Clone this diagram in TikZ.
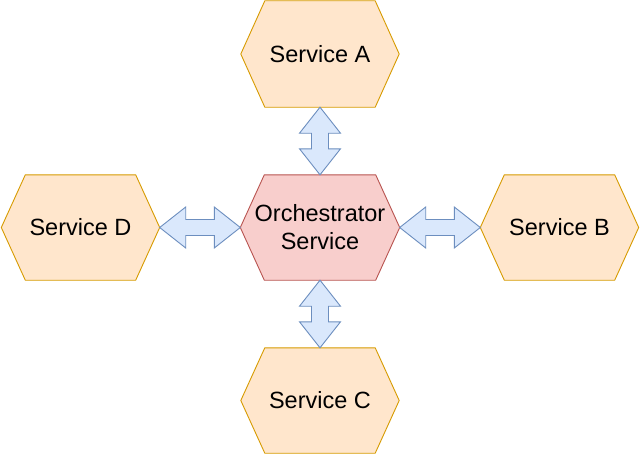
\documentclass[tikz,border=0pt]{standalone}
\usepackage{fontspec}
\setmainfont{Liberation Sans}
\usetikzlibrary{calc}
\definecolor{svcfill}{HTML}{FFE6CC}
\definecolor{svcdraw}{HTML}{D79B00}
\definecolor{orfill}{HTML}{F8CECC}
\definecolor{ordraw}{HTML}{B85450}
\definecolor{arfill}{HTML}{DAE8FC}
\definecolor{ardraw}{HTML}{6C8EBF}
\tikzset{
  box/.style={rectangle, minimum width=158pt, minimum height=106pt, inner sep=0pt,
    align=center, font=\fontsize{23.5}{28}\selectfont},
  svc/.style={fill=svcfill, draw=svcdraw, line width=0.9pt, line join=round},
  orch/.style={fill=orfill, draw=ordraw, line width=0.9pt, line join=round},
  blk/.style={fill=arfill, draw=ardraw, line width=0.9pt, line join=miter},
}
\newcommand\hexshape[2]{%
  \path[#2] (#1.west) -- ($(#1.north west)+(24pt,0)$) -- ($(#1.north east)+(-24pt,0)$)
    -- (#1.east) -- ($(#1.south east)+(-24pt,0)$) -- ($(#1.south west)+(24pt,0)$) -- cycle;}
% vertical double block arrow, first point above second
\newcommand\vdarrow[2]{%
  \path[blk] let \p1=(#1), \p2=(#2) in
    (\x1,\y1) -- (\x1+20.5pt,\y1-26pt) -- (\x1+8.5pt,\y1-26pt) -- (\x1+8.5pt,\y2+26pt)
    -- (\x1+20.5pt,\y2+26pt) -- (\x1,\y2) -- (\x1-20.5pt,\y2+26pt) -- (\x1-8.5pt,\y2+26pt)
    -- (\x1-8.5pt,\y1-26pt) -- (\x1-20.5pt,\y1-26pt) -- cycle;}
% horizontal double block arrow, first point left of second
\newcommand\hdarrow[2]{%
  \path[blk] let \p1=(#1), \p2=(#2) in
    (\x1,\y1) -- (\x1+26pt,\y1+20.5pt) -- (\x1+26pt,\y1+8pt) -- (\x2-26pt,\y1+8pt)
    -- (\x2-26pt,\y1+20.5pt) -- (\x2,\y1) -- (\x2-26pt,\y1-20.5pt) -- (\x2-26pt,\y1-8pt)
    -- (\x1+26pt,\y1-8pt) -- (\x1+26pt,\y1-20.5pt) -- cycle;}
\begin{document}
\begin{tikzpicture}[x=1pt,y=-1pt]
\fill[white] (0,0) rectangle (640,455);
\useasboundingbox (0,0) rectangle (640,455);
\node[box] (A) at (320,54) {};
\node[box, minimum width=159pt, minimum height=105pt] (O) at (320,227.5) {};
\node[box, minimum height=105pt] (D) at (80.5,227.5) {};
\node[box, minimum height=105pt] (B) at (559.5,227.5) {};
\node[box, minimum height=105pt] (C) at (320,400.5) {};
\hexshape{A}{svc}
\hexshape{D}{svc}
\hexshape{B}{svc}
\hexshape{C}{svc}
\hexshape{O}{orch}
\node[box] at (A) {Service A};
\node[box] at (D) {Service D};
\node[box] at (B) {Service B};
\node[box] at (C) {Service C};
\node[box] at (O) {Orchestrator\\Service};
\vdarrow{A.south}{O.north}
\vdarrow{O.south}{C.north}
\hdarrow{D.east}{O.west}
\hdarrow{O.east}{B.west}
\end{tikzpicture}
\end{document}
